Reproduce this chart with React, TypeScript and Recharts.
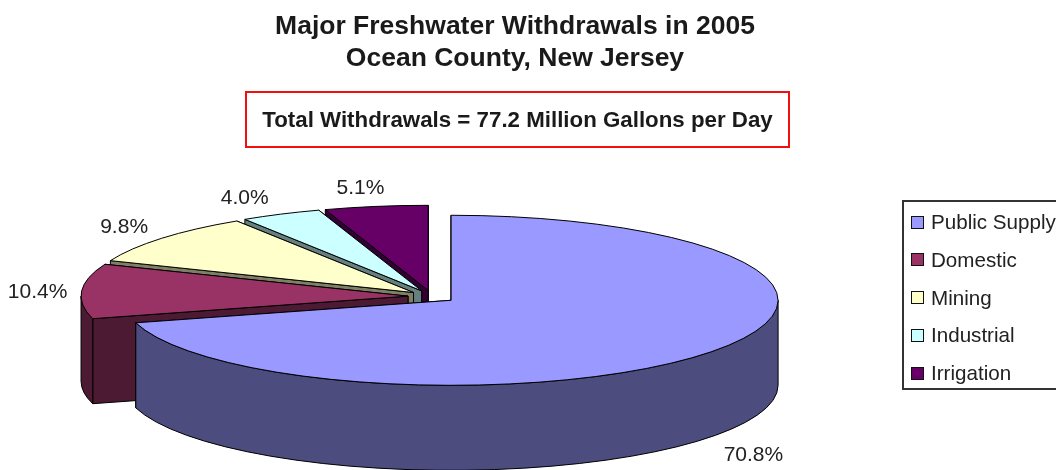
import React from "react";
import { PieChart, Pie, Legend } from "recharts";

const categories = ["Public Supply", "Domestic", "Mining", "Industrial", "Irrigation"];
const shares = [70.8, 10.4, 9.8, 4.0, 5.1];
const topColors = ["#9999FF", "#993366", "#FFFFCC", "#CCFFFF", "#660066"];
const sideColors = ["#4C4C7F", "#4D1A33", "#7F7F66", "#667F7F", "#330033"];
const labelNudgeX = [3, 0, 1, -7, 2];
const titleLines = ["Major Freshwater Withdrawals in 2005", "Ocean County, New Jersey"];
const noteText = "Total Withdrawals = 77.2 Million Gallons per Day";

// drawn back to front, counter-clockwise from 12 o'clock
const rows = categories
  .map((name, i) => ({ name, value: shares[i], fill: topColors[i], side: sideColors[i], nudge: labelNudgeX[i] }))
  .reverse();

const FONT = '"Liberation Sans", Arial, sans-serif';
const SQUASH = 0.26;
const EXPLODE = 24;
const DEPTH = 85;
const RAD = Math.PI / 180;

function WedgeShape(props: any) {
  const { cx, cy, outerRadius: r, startAngle: s, endAngle: e, fill, payload } = props;
  const side = payload?.side ?? props.side;
  const mid = (s + e) / 2;
  const ox = cx + EXPLODE * Math.cos(mid * RAD);
  const oy = cy - EXPLODE * SQUASH * Math.sin(mid * RAD);
  const ry = r * SQUASH;
  const pt = (a: number): [number, number] => [
    ox + r * Math.cos(a * RAD),
    oy - ry * Math.sin(a * RAD),
  ];
  const [sx, sy] = pt(s);
  const [ex, ey] = pt(e);
  const top = `M${ox},${oy} L${sx},${sy} A${r},${ry} 0 ${e - s > 180 ? 1 : 0} 0 ${ex},${ey} Z`;
  const face = (x: number, y: number) =>
    `M${ox},${oy} L${x},${y} L${x},${y + DEPTH} L${ox},${oy + DEPTH} Z`;
  const ws = Math.max(s, 180);
  const we = Math.min(e, 360);
  let wall = "";
  if (we > ws) {
    const [ax, ay] = pt(ws);
    const [bx, by] = pt(we);
    const large = we - ws > 180 ? 1 : 0;
    wall = `M${ax},${ay} A${r},${ry} 0 ${large} 0 ${bx},${by} L${bx},${by + DEPTH} A${r},${ry} 0 ${large} 1 ${ax},${ay + DEPTH} Z`;
  }
  const stroke = { stroke: "#000", strokeWidth: 1, strokeLinejoin: "round" as const };
  return (
    <g>
      <path d={face(sx, sy)} fill={side} {...stroke} />
      <path d={face(ex, ey)} fill={side} {...stroke} />
      {wall && <path d={wall} fill={side} {...stroke} />}
      <path d={top} fill={fill} {...stroke} />
    </g>
  );
}

function PercentLabel(props: any) {
  const { cx, cy, outerRadius: r, midAngle, value, payload } = props;
  const c = Math.cos(midAngle * RAD);
  const n = Math.sin(midAngle * RAD);
  const ox = cx + EXPLODE * c;
  const oy = cy - EXPLODE * SQUASH * n;
  const x = ox + r * c + Math.sign(c) * 44 * Math.sqrt(Math.abs(c)) + (payload?.nudge ?? 0);
  const y = oy - r * SQUASH * n - (n < 0 ? 27 : 20) * n + (n < 0 ? DEPTH : 0);
  return (
    <text x={x} y={y} textAnchor="middle" dominantBaseline="central" fontFamily={FONT} fontSize={21} fill="#222">
      {`${Number(value).toFixed(1)}%`}
    </text>
  );
}

function LegendBox() {
  return (
    <div
      style={{
        boxSizing: "border-box",
        width: 200,
        height: 190,
        border: "2px solid #333",
        background: "#fff",
        position: "relative",
        fontFamily: FONT,
        fontSize: 20.6,
        color: "#222",
      }}
    >
      {categories.map((name, i) => (
        <div
          key={name}
          style={{
            position: "absolute",
            left: 7,
            top: 13 + i * 37.8,
            height: 14,
            display: "flex",
            alignItems: "center",
            whiteSpace: "nowrap",
          }}
        >
          <span
            style={{
              boxSizing: "border-box",
              display: "inline-block",
              width: 13,
              height: 13,
              border: "1.5px solid #111",
              background: topColors[i],
              marginRight: 7,
            }}
          />
          {name}
        </div>
      ))}
    </div>
  );
}

export default function App() {
  return (
    <div style={{ position: "absolute", left: 0, top: 0, width: 1056, height: 470, overflow: "hidden", background: "#fff", filter: "blur(0.5px)" }}>
      <div
        style={{
          position: "absolute",
          left: 215,
          top: 9,
          width: 600,
          textAlign: "center",
          fontFamily: FONT,
          fontWeight: 700,
          fontSize: 26.5,
          lineHeight: "32px",
          color: "#1a1a1a",
        }}
      >
        {titleLines.map((l) => (
          <div key={l}>{l}</div>
        ))}
      </div>
      <div
        style={{
          boxSizing: "border-box",
          position: "absolute",
          left: 245,
          top: 91,
          width: 545,
          height: 57,
          border: "2px solid #F01010",
          display: "flex",
          alignItems: "center",
          justifyContent: "center",
          fontFamily: FONT,
          fontWeight: 700,
          fontSize: 22.3,
          color: "#1a1a1a",
          whiteSpace: "nowrap",
        }}
      >
        {noteText}
      </div>
      <PieChart width={1056} height={470} margin={{ top: 0, right: 0, bottom: 0, left: 0 }}>
        <Pie
          data={rows}
          dataKey="value"
          nameKey="name"
          cx={432}
          cy={296.5}
          outerRadius={327}
          startAngle={90}
          endAngle={450}
          stroke="#000"
          shape={WedgeShape}
          label={PercentLabel}
          labelLine={false}
          isAnimationActive={false}
        />
        <Legend
          layout="vertical"
          align="right"
          verticalAlign="middle"
          content={LegendBox}
          wrapperStyle={{ left: 902, top: 200, right: "auto", bottom: "auto", width: 200, height: 190 }}
        />
      </PieChart>
    </div>
  );
}
